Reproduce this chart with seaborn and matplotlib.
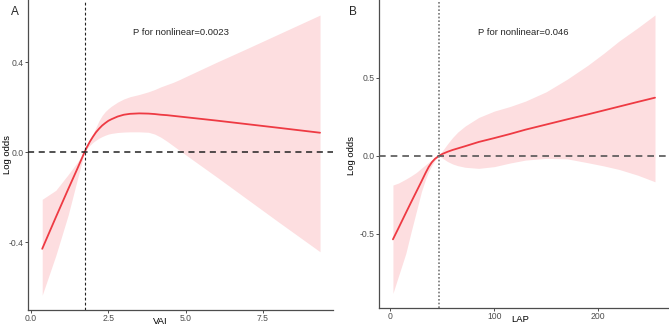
import numpy as np
import pandas as pd
import matplotlib
matplotlib.use("Agg")
import matplotlib.pyplot as plt
import seaborn as sns

# Panel A: VAI restricted cubic spline
vai_x = [0.36, 0.8, 1.2, 1.5, 1.73, 1.8, 1.9, 2.0, 2.1, 2.2, 2.3, 2.4, 2.5, 2.6, 2.8, 3.0, 3.2, 3.5, 3.8, 4.0, 4.2, 4.4, 4.6, 4.8, 5.0, 6.0, 7.0, 8.0, 9.35]
vai_fit = [-0.43, -0.29, -0.165, -0.073, 0.0, 0.02, 0.046, 0.068, 0.088, 0.104, 0.118, 0.129, 0.139, 0.146, 0.158, 0.166, 0.17, 0.172, 0.171, 0.169, 0.166, 0.164, 0.161, 0.158, 0.155, 0.14, 0.124, 0.108, 0.086]
vai_lo = [-0.636, -0.46, -0.28, -0.12, 0.0, 0.015, 0.03, 0.043, 0.053, 0.062, 0.069, 0.075, 0.08, 0.083, 0.087, 0.089, 0.09, 0.09, 0.088, 0.08, 0.066, 0.048, 0.028, 0.008, -0.012, -0.11, -0.21, -0.31, -0.443]
vai_hi = [-0.21, -0.17, -0.1, -0.045, 0.0, 0.025, 0.05, 0.08, 0.11, 0.14, 0.163, 0.18, 0.193, 0.204, 0.222, 0.236, 0.246, 0.256, 0.268, 0.278, 0.29, 0.3, 0.31, 0.322, 0.335, 0.399, 0.461, 0.524, 0.609]

# Panel B: LAP restricted cubic spline
lap_x = [2.6, 8, 15, 20, 25, 30, 34, 37, 40, 43, 47, 50, 55, 60, 65, 72, 85, 100, 115, 130, 150, 170, 190, 205, 220, 238, 254.5]
lap_fit = [-0.536, -0.463, -0.367, -0.299, -0.232, -0.165, -0.11, -0.072, -0.042, -0.02, 0.0, 0.011, 0.025, 0.037, 0.047, 0.061, 0.088, 0.113, 0.139, 0.167, 0.2, 0.233, 0.265, 0.29, 0.315, 0.345, 0.372]
lap_lo = [-0.882, -0.77, -0.626, -0.49, -0.36, -0.23, -0.15, -0.1, -0.062, -0.03, 0.0, -0.015, -0.037, -0.053, -0.064, -0.074, -0.081, -0.07, -0.047, -0.028, -0.017, -0.02, -0.045, -0.065, -0.088, -0.125, -0.167]
lap_hi = [-0.188, -0.175, -0.15, -0.13, -0.108, -0.08, -0.058, -0.042, -0.027, -0.013, 0.0, 0.03, 0.075, 0.117, 0.152, 0.19, 0.245, 0.286, 0.315, 0.35, 0.41, 0.49, 0.58, 0.655, 0.735, 0.82, 0.902]

vai_ref = 1.73
lap_ref = 47

line_col = "#EE3A43"
band_col = "#FDDEE0"

sns.set_theme(style="ticks")
plt.rcParams["font.family"] = ["Liberation Sans", "DejaVu Sans"]

fig = plt.figure(figsize=(6.69, 3.27), dpi=100)
ax_a = fig.add_axes([28 / 669, 17 / 327, 305 / 669, 310 / 327])
ax_b = fig.add_axes([379.3 / 669, 19 / 327, 288.7 / 669, 308 / 327])


def draw_panel(ax, x, fit, lo, hi, ref, xlabel, ptext, xlim, ylim, xticks, yticks, xfmt, styles, xlab_pos, ylab_pos):
    df = pd.DataFrame({"x": x, "fit": fit, "lo": lo, "hi": hi})
    ax.fill_between(df["x"], df["lo"], df["hi"], color=band_col, lw=0, zorder=1)
    sns.lineplot(data=df, x="x", y="fit", ax=ax, color=line_col, lw=1.3, zorder=3)
    ax.axhline(0, **styles["h"], zorder=4)
    ax.axvline(ref, **styles["v"], zorder=4)
    ax.set_xlim(xlim)
    ax.set_ylim(ylim)
    ax.set_xticks(xticks)
    ax.set_yticks(yticks)
    ax.set_xticklabels([xfmt.format(t) for t in xticks])
    ax.set_yticklabels(["{:.1f}".format(t) for t in yticks])
    ax.tick_params(labelsize=6.2, colors="#4d4d4d", length=2, width=0.7, pad=1.2)
    ax.set_xlabel(xlabel, fontsize=6.8, color="black")
    ax.set_ylabel("Log odds", fontsize=6.8, color="black")
    ax.xaxis.set_label_coords(*xlab_pos)
    ax.yaxis.set_label_coords(*ylab_pos)
    ax.yaxis.label.set_va("center")
    for s in ["left", "bottom"]:
        ax.spines[s].set_color("#4d4d4d")
        ax.spines[s].set_linewidth(0.9)
    sns.despine(ax=ax)
    ax.text(0.5, 0.895, ptext, transform=ax.transAxes, ha="center", va="center", fontsize=6.8)


draw_panel(ax_a, vai_x, vai_fit, vai_lo, vai_hi, vai_ref, "VAI", "P for nonlinear=0.0023",
           (-0.1, 9.77), (-0.702, 0.676), [0.0, 2.5, 5.0, 7.5], [-0.4, 0.0, 0.4], "{:.1f}",
           {"h": dict(color="#222222", lw=1.1, ls=(0, (4, 3))),
            "v": dict(color="#222222", lw=0.8, ls=(0, (2.5, 2)))},
           (0.433, -0.024), (-0.066, 0.503))
draw_panel(ax_b, lap_x, lap_fit, lap_lo, lap_hi, lap_ref, "LAP", "P for nonlinear=0.046",
           (-10.5, 267), (-0.976, 0.998), [0, 100, 200], [-0.5, 0.0, 0.5], "{:d}",
           {"h": dict(color="#555555", lw=1.2, ls=(0, (4, 3))),
            "v": dict(color="#777777", lw=1.2, ls=(0, (1, 1.2)))},
           (0.487, -0.024), (-0.095, 0.494))

fig.text(15 / 669, 1 - 12 / 327, "A", fontsize=8.5, ha="center", va="center")
fig.text(353 / 669, 1 - 12 / 327, "B", fontsize=8.5, ha="center", va="center")

fig.savefig("out.png", dpi=100)
